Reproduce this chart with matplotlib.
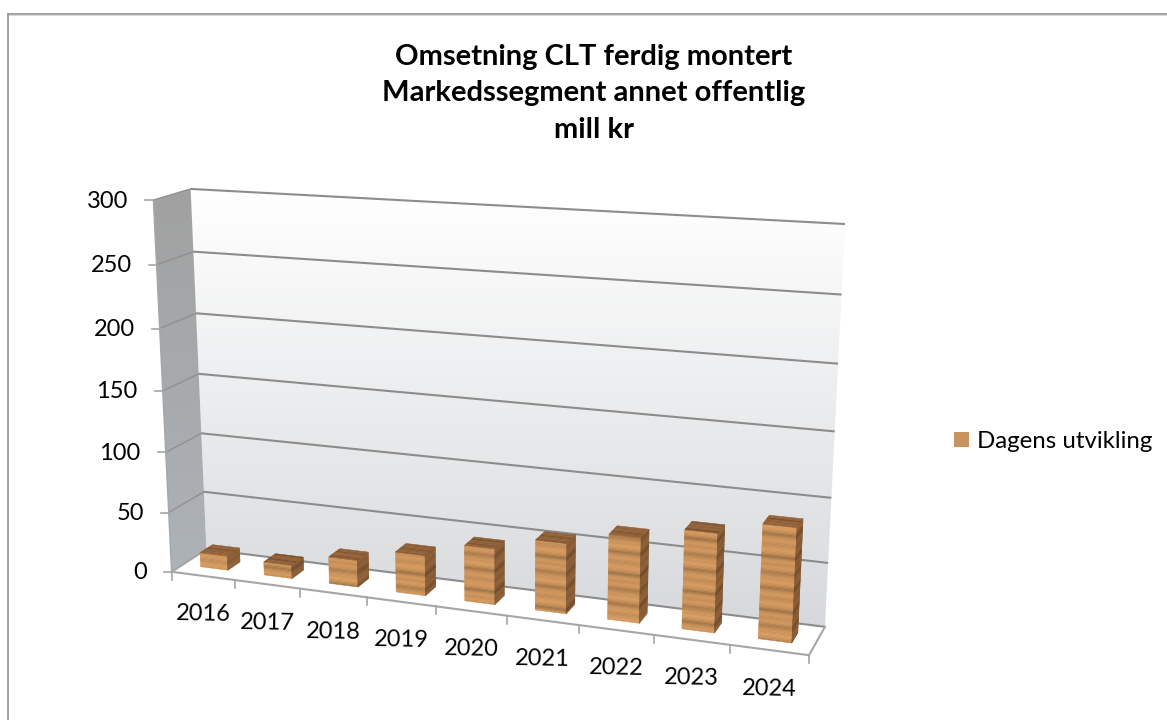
import numpy as np
import matplotlib
matplotlib.use("Agg")
import matplotlib.pyplot as plt
from matplotlib.collections import PolyCollection
from matplotlib.patches import Polygon, Patch

categories = ["2016", "2017", "2018", "2019", "2020", "2021", "2022", "2023", "2024"]
values = [12, 11, 22, 33, 45, 56, 67, 77, 88]
y_ticks = [0, 50, 100, 150, 200, 250, 300]
series_name = "Dagens utvikling"
title = "Omsetning CLT ferdig montert\nMarkedssegment annet offentlig\nmill kr"

plt.rcParams["font.family"] = ["Lato", "DejaVu Sans"]
W, H = 1167, 720
fig = plt.figure(figsize=(W / 100, H / 100), dpi=100)
ax = fig.add_axes([0, 0, 1, 1])
ax.set_xlim(0, W)
ax.set_ylim(H, 0)
ax.axis("off")
ax.set_autoscale_on(False)

# perspective camera fitted to the box corners of the 3-D plot (category, value, depth)
nc, vmax = len(categories), y_ticks[-1]
anchors = [((0, 0, 0), (172, 572)), ((nc, 0, 0), (809, 655)), ((0, 0, 1), (206, 549)),
           ((nc, 0, 1), (825, 627)), ((0, vmax, 0), (153, 200)), ((0, vmax, 1), (191, 189)),
           ((nc, vmax, 1), (845, 224))]
A, b = [], []
for (c, v, d), (px, py) in anchors:
    A.append([c, v, d, 1, 0, 0, 0, 0, -px * c, -px * v, -px * d]); b.append(px)
    A.append([0, 0, 0, 0, c, v, d, 1, -py * c, -py * v, -py * d]); b.append(py)
P = np.append(np.linalg.lstsq(np.array(A, float), np.array(b, float), rcond=None)[0], 1).reshape(3, 4)


def project(c, v, d):
    q = P @ np.array([c, v, d, 1.0])
    return q[0] / q[2], q[1] / q[2]


def quad(*pts):
    return [project(*p) for p in pts]


GRID = "#8c8c8c"
EDGE = "#a6a6a6"

# chart-area border: only the top and left edges show
ax.plot([7.5, W], [13.5, 13.5], color="#8a8a8a", lw=1.1, zorder=0)
ax.plot([W, 7.5, 7.5], [14.8, 14.8, H], color="#d9d9d9", lw=0.7, zorder=0)
ax.plot([7.8, 7.8], [13.5, H], color="#9a9a9a", lw=1.3, zorder=0)


def gradient(poly, top, bottom, zorder):
    pts = np.array(poly)
    patch = Polygon(pts, closed=True, fc="none", ec="none", zorder=zorder)
    ax.add_patch(patch)
    g = np.linspace(0, 1, 256)[:, None, None]
    img = (1 - g) * np.array(top)[None, None, :] + g * np.array(bottom)[None, None, :]
    im = ax.imshow(img, extent=(pts[:, 0].min(), pts[:, 0].max(), pts[:, 1].max(), pts[:, 1].min()),
                   aspect="auto", zorder=zorder, interpolation="bilinear")
    im.set_clip_path(patch)


# walls
gradient(quad((0, vmax, 1), (nc, vmax, 1), (nc, 0, 1), (0, 0, 1)),
         (1.0, 1.0, 1.0), (0.84, 0.85, 0.86), 1)
gradient(quad((0, vmax, 0), (0, vmax, 1), (0, 0, 1), (0, 0, 0)),
         (0.63, 0.63, 0.63), (0.68, 0.70, 0.72), 1)
ax.add_patch(Polygon(quad((0, 0, 0), (nc, 0, 0), (nc, 0, 1), (0, 0, 1)), closed=True, fc="white", ec="none", zorder=1))

# gridlines on back and side wall
for t in y_ticks:
    pts = np.array(quad((0, t, 0), (0, t, 1), (nc, t, 1)))
    ax.plot(pts[1:, 0], pts[1:, 1], color=GRID, lw=1.5, zorder=2, solid_capstyle="butt")
    ax.plot(pts[:2, 0], pts[:2, 1], color="#909090", lw=1.0, zorder=2)
    x0, y0 = pts[0]
    ax.plot([x0 - 8, x0], [y0, y0], color=EDGE, lw=1.2, zorder=2)
    ax.text(x0 - 25, y0 + 1, str(t), ha="right", va="center", fontsize=17, color="black", zorder=5)

# floor edges and ticks
for seg in [((0, 0, 0), (nc, 0, 0)), ((nc, 0, 0), (nc, 0, 1)), ((0, 0, 0), (0, 0, 1))]:
    pts = np.array(quad(*seg))
    ax.plot(pts[:, 0], pts[:, 1], color=EDGE, lw=1.5, zorder=2)
pts = np.array(quad((0, 0, 0), (0, vmax, 0)))
ax.plot(pts[:, 0], pts[:, 1], color=EDGE, lw=1.0, zorder=2)
for i in range(nc + 1):
    x0, y0 = project(i, 0, 0)
    ax.plot([x0, x0], [y0, y0 + 8], color=EDGE, lw=1.2, zorder=2)
for i, lab in enumerate(categories):
    x0, y0 = project(i + 0.5, 0, 0)
    ax.text(x0, y0 + 38.5, lab, ha="center", va="center", fontsize=17, rotation=-1,
            rotation_mode="anchor", color="black", zorder=5)

# wooden bars: decorative grain shades, repeated up the bar
shade = [1.02, 1.05, 1.08, 1.06, 1.03, 1.00, 0.97, 0.99, 1.03, 1.06, 1.04, 1.01, 0.96, 0.88, 0.82,
         0.90, 0.98, 1.03, 1.07, 1.09, 1.05, 1.02, 1.04, 1.00, 0.95, 0.90, 0.86, 0.93, 1.00, 1.04,
         1.06, 1.02, 0.98, 1.01, 1.05, 1.03, 0.97, 0.87, 0.80, 0.89, 0.97]
FRONT = np.array([0.78, 0.56, 0.34])
SIDE = np.array([0.52, 0.35, 0.20])
TOP = np.array([0.56, 0.37, 0.21])
BW, D0, D1 = 0.43, 0.32, 0.68


def strips(quads, base, start=0, step=1):
    cols = [np.clip(base * shade[(start + step * k) % len(shade)], 0, 1) for k in range(len(quads))]
    ax.add_collection(PolyCollection(quads, facecolors=cols, edgecolors=cols, linewidths=0.4, zorder=3))


for i, val in enumerate(values):
    x0, x1 = i + 0.5 - BW / 2, i + 0.5 + BW / 2
    lv = np.arange(0, val + 1.0, 1.0)
    lv = np.append(lv[lv < val], val)
    strips([quad((x0, a, D0), (x1, a, D0), (x1, b_, D0), (x0, b_, D0)) for a, b_ in zip(lv[:-1], lv[1:])], FRONT, i * 7)
    strips([quad((x1, a, D0), (x1, a, D1), (x1, b_, D1), (x1, b_, D0)) for a, b_ in zip(lv[:-1], lv[1:])], SIDE, i * 7)
    ld = np.linspace(D0, D1, 9)
    strips([quad((x0, val, a), (x1, val, a), (x1, val, b_), (x0, val, b_)) for a, b_ in zip(ld[:-1], ld[1:])], TOP, i * 5, 3)

ax.text(594, 93.5, title, ha="center", va="center", fontsize=21, fontweight="bold", color="black",
        linespacing=1.52, zorder=5)

leg = ax.legend(handles=[Patch(fc="#c99360", ec="none", label=series_name)], loc="center left",
                bbox_to_anchor=(954 / W, 1 - 441.5 / H), frameon=False, fontsize=17.3,
                handlelength=0.625, handleheight=0.625, handletextpad=0.33, borderpad=0, borderaxespad=0)

fig.savefig("out.png", dpi=100, facecolor="white")
